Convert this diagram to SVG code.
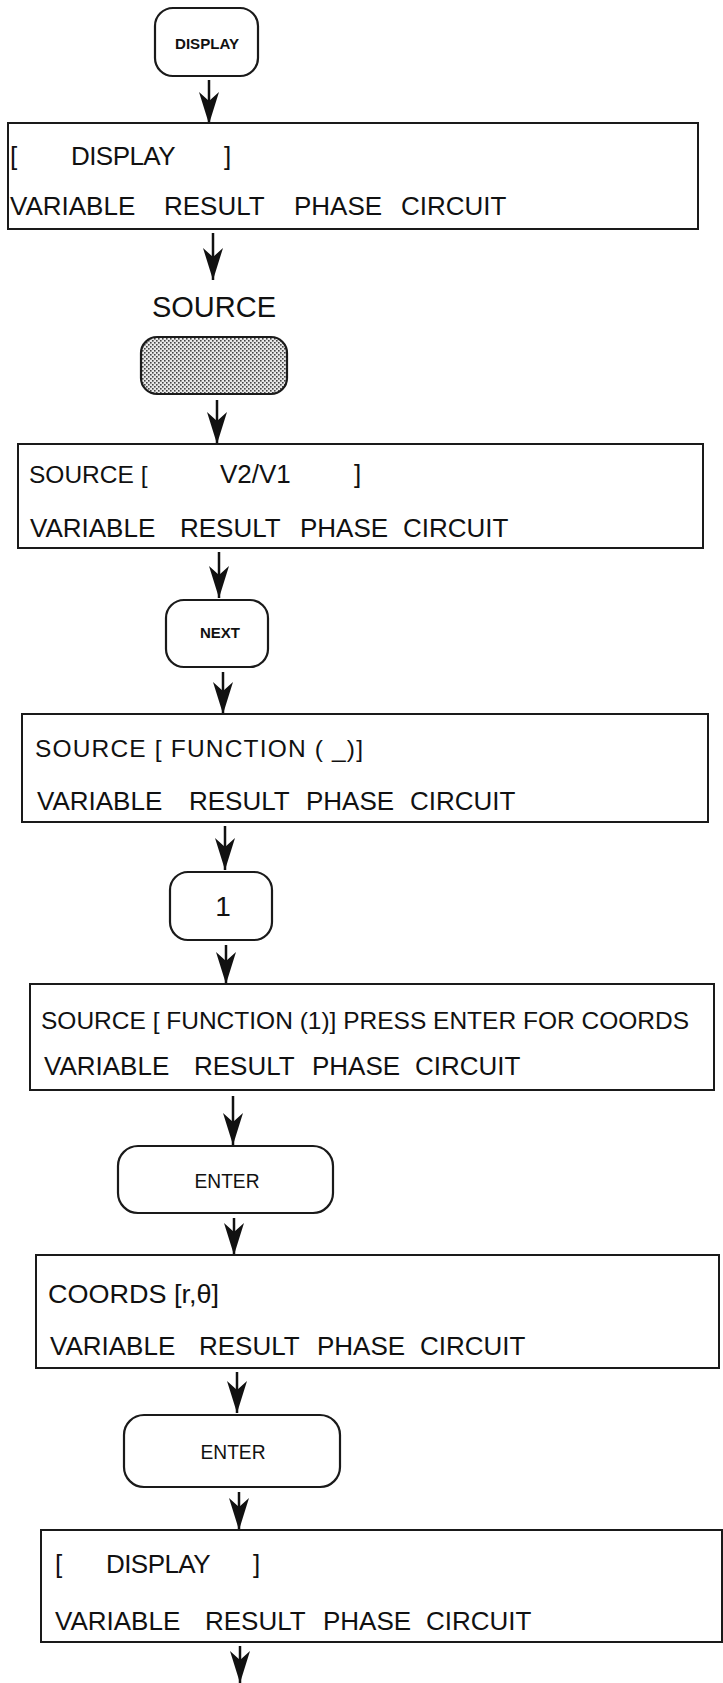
<svg xmlns="http://www.w3.org/2000/svg" width="723" height="1683" viewBox="0 0 723 1683">
<style>
.t{font-family:"Liberation Sans",Arial,sans-serif;font-size:26px;fill:#111}
.s{font-size:24.5px}
.k{font-family:"Liberation Sans",Arial,sans-serif;fill:#111;text-anchor:middle}
.box{fill:#fff;stroke:#1a1a1a;stroke-width:2}
.key{fill:#fff;stroke:#1a1a1a;stroke-width:2.2}
.ln{stroke:#111;stroke-width:2.5;fill:none}
</style>
<defs>
<marker id="ah" markerUnits="userSpaceOnUse" markerWidth="34" markerHeight="22" viewBox="0 -11 34 22" refX="32" refY="0" orient="auto">
<path d="M0,-10 L32,0 L0,10 L9,0 Z" fill="#111"/>
</marker>
<pattern id="dots" width="4" height="4" patternUnits="userSpaceOnUse">
<rect width="4" height="4" fill="#e8e8e8"/>
<rect x="0" y="0" width="1.6" height="1.6" fill="#444"/>
<rect x="2" y="2" width="1.6" height="1.6" fill="#444"/>
</pattern>
</defs>
<rect width="723" height="1683" fill="#fff"/>

<g id="connectors">
<line class="ln" x1="209" y1="80" x2="209" y2="124" marker-end="url(#ah)"/>
<line class="ln" x1="213" y1="233" x2="213" y2="280" marker-end="url(#ah)"/>
<line class="ln" x1="217" y1="400" x2="217" y2="444" marker-end="url(#ah)"/>
<line class="ln" x1="219" y1="552" x2="219" y2="598" marker-end="url(#ah)"/>
<line class="ln" x1="223" y1="672" x2="223" y2="714" marker-end="url(#ah)"/>
<line class="ln" x1="225" y1="826" x2="225" y2="870" marker-end="url(#ah)"/>
<line class="ln" x1="226" y1="945" x2="226" y2="984" marker-end="url(#ah)"/>
<line class="ln" x1="233" y1="1096" x2="233" y2="1145" marker-end="url(#ah)"/>
<line class="ln" x1="234" y1="1218" x2="234" y2="1255" marker-end="url(#ah)"/>
<line class="ln" x1="237" y1="1372" x2="237" y2="1413" marker-end="url(#ah)"/>
<line class="ln" x1="239" y1="1492" x2="239" y2="1530" marker-end="url(#ah)"/>
<line class="ln" x1="240" y1="1646" x2="240" y2="1683" marker-end="url(#ah)"/>
</g>

<g id="key-display">
<rect class="key" x="155" y="8" width="103" height="68" rx="18"/>
<text class="k" x="207" y="49" font-size="14" font-weight="bold" textLength="64" lengthAdjust="spacingAndGlyphs">DISPLAY</text>
</g>

<g id="screen-1">
<rect class="box" x="8" y="123" width="690" height="106"/>
<text class="t" y="165"><tspan x="10">[</tspan> <tspan x="71" textLength="104">DISPLAY</tspan> <tspan x="224">]</tspan></text>
<text class="t" y="215"><tspan x="10">VARIABLE</tspan> <tspan x="164">RESULT</tspan> <tspan x="294">PHASE</tspan> <tspan x="401">CIRCUIT</tspan></text>
</g>

<g id="key-source">
<text class="k" x="214" y="317" font-size="29">SOURCE</text>
<rect class="key" x="141" y="337" width="146" height="57" rx="16" style="fill:url(#dots)"/>
</g>

<g id="screen-2">
<rect class="box" x="18" y="444" width="685" height="104"/>
<text class="t s" x="29" y="483">SOURCE [</text>
<text class="t" x="220" y="483">V2/V1</text>
<text class="t" x="354" y="483">]</text>
<text class="t" y="537"><tspan x="30">VARIABLE</tspan> <tspan x="180">RESULT</tspan> <tspan x="300">PHASE</tspan> <tspan x="403">CIRCUIT</tspan></text>
</g>

<g id="key-next">
<rect class="key" x="166" y="600" width="102" height="67" rx="18"/>
<text class="k" x="220" y="638" font-size="15" font-weight="bold">NEXT</text>
</g>

<g id="screen-3">
<rect class="box" x="22" y="714" width="686" height="108"/>
<text class="t s" x="35" y="757" textLength="328" lengthAdjust="spacing">SOURCE [ FUNCTION ( _)]</text>
<text class="t" y="810"><tspan x="37">VARIABLE</tspan> <tspan x="189">RESULT</tspan> <tspan x="306">PHASE</tspan> <tspan x="410">CIRCUIT</tspan></text>
</g>

<g id="key-1">
<rect class="key" x="170" y="872" width="102" height="68" rx="18"/>
<text class="k" x="223" y="916" font-size="28">1</text>
</g>

<g id="screen-4">
<rect class="box" x="30" y="984" width="684" height="106"/>
<text class="t s" x="41" y="1029" textLength="648" lengthAdjust="spacingAndGlyphs">SOURCE [ FUNCTION (1)] PRESS ENTER FOR COORDS</text>
<text class="t" y="1075"><tspan x="44">VARIABLE</tspan> <tspan x="194">RESULT</tspan> <tspan x="312">PHASE</tspan> <tspan x="415">CIRCUIT</tspan></text>
</g>

<g id="key-enter-1">
<rect class="key" x="118" y="1146" width="215" height="67" rx="20"/>
<text class="k" x="227" y="1188" font-size="21" textLength="65" lengthAdjust="spacingAndGlyphs">ENTER</text>
</g>

<g id="screen-5">
<rect class="box" x="36" y="1255" width="683" height="113"/>
<text class="t" x="48" y="1303" textLength="171" lengthAdjust="spacingAndGlyphs">COORDS [r,θ]</text>
<text class="t" y="1355"><tspan x="50">VARIABLE</tspan> <tspan x="199">RESULT</tspan> <tspan x="317">PHASE</tspan> <tspan x="420">CIRCUIT</tspan></text>
</g>

<g id="key-enter-2">
<rect class="key" x="124" y="1415" width="216" height="72" rx="20"/>
<text class="k" x="233" y="1459" font-size="21" textLength="65" lengthAdjust="spacingAndGlyphs">ENTER</text>
</g>

<g id="screen-6">
<rect class="box" x="41" y="1530" width="681" height="112"/>
<text class="t" y="1573"><tspan x="55">[</tspan> <tspan x="106" textLength="104">DISPLAY</tspan> <tspan x="253">]</tspan></text>
<text class="t" y="1630"><tspan x="55">VARIABLE</tspan> <tspan x="205">RESULT</tspan> <tspan x="323">PHASE</tspan> <tspan x="426">CIRCUIT</tspan></text>
</g>
</svg>
